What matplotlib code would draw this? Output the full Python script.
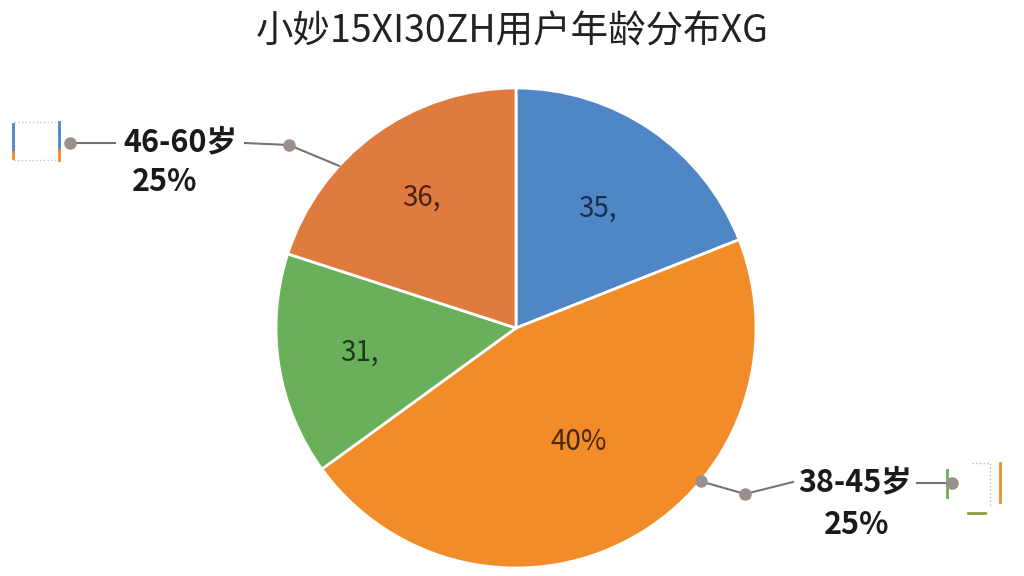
import numpy as np
import matplotlib
matplotlib.use('Agg')
import matplotlib.pyplot as plt

plt.rcParams['font.family'] = ['Noto Sans CJK SC', 'DejaVu Sans']

# data (share of the circle, in percent)
title = '小妙15XI30ZH用户年龄分布XG'
values = [19, 46, 15, 20]
colors = ['#4f86c6', '#f28c28', '#6aaf5a', '#e07b40']
inner_labels = ['35,', '40%', '31,', '36,']
inner_colors = ['#1c2f4a', '#4a2a0c', '#1f3a1a', '#4a2412']
outer_names = ['46-60岁', '38-45岁']
outer_pcts = ['25%', '25%']

W, H = 1024, 576
fig = plt.figure(figsize=(10.24, 5.76), dpi=100)
ax = fig.add_axes([0, 0, 1, 1])

cx, cy, R = 516, 248, 240
wedges, _ = ax.pie(values, colors=colors, startangle=90, counterclock=False,
                   center=(cx, cy), radius=R,
                   wedgeprops=dict(edgecolor='white', linewidth=2))
ax.set_xlim(0, W)
ax.set_ylim(0, H)
ax.set_aspect('equal')
ax.axis('off')

# labels inside the slices
dist = [0.6, 0.54, 0.66, 0.67]
for w, lab, c, d in zip(wedges, inner_labels, inner_colors, dist):
    mid = np.deg2rad((w.theta1 + w.theta2) / 2)
    ax.text(cx + d * R * np.cos(mid), cy + d * R * np.sin(mid), lab,
            ha='center', va='center', fontsize=20, color=c)

ax.text(W / 2, 544, title, ha='center', va='center', fontsize=27, color='#222222')

line_c = '#7a7272'
dot_c = '#9a8f8a'

def edge_pt(angle):
    a = np.deg2rad(angle)
    return cx + R * np.cos(a), cy + R * np.sin(a)

# 46-60岁 callout (upper left)
ex, ey = edge_pt(137.5)
ax.plot([ex, 289, 245], [ey, 431, 433], color=line_c, lw=1.5, zorder=3)
ax.plot([115, 70], [433, 433], color=line_c, lw=1.5, zorder=3)
ax.plot([289, 70], [431, 433], 'o', color=dot_c, ms=8, zorder=4)
ax.text(180, 434, outer_names[0], ha='center', va='center', fontsize=22,
        fontweight='bold', color='#1a1a1a')
ax.text(165, 394, outer_pcts[0], ha='center', va='center', fontsize=22,
        fontweight='bold', color='#1a1a1a')

# 38-45岁 callout (lower right)
ex, ey = edge_pt(-39.7)
ax.plot([ex, 745, 793], [ey, 82, 94], color=line_c, lw=1.5, zorder=3)
ax.plot([917, 952], [93, 93], color=line_c, lw=1.5, zorder=3)
ax.plot([ex, 745, 952], [ey, 82, 93], 'o', color=dot_c, ms=8, zorder=4)
ax.text(855, 94, outer_names[1], ha='center', va='center', fontsize=22,
        fontweight='bold', color='#1a1a1a')
ax.text(857, 51, outer_pcts[1], ha='center', va='center', fontsize=22,
        fontweight='bold', color='#1a1a1a')

# small legend-ish marks next to the callouts
ax.plot([14, 60, 60, 14, 14], [454, 454, 416, 416, 454], ls=':', color='#b8c4d0', lw=1)
ax.plot([13, 13], [452, 424], color='#4f86c6', lw=2)
ax.plot([13, 13], [424, 418], color='#f28c28', lw=2)
ax.plot([59, 59], [454, 426], color='#4f86c6', lw=2)
ax.plot([59, 59], [426, 416], color='#f28c28', lw=2)
ax.plot([947, 947], [106, 79], color='#6aaf5a', lw=2)
ax.plot([972, 990, 990], [113, 113, 70], ls=':', color='#c8b8a8', lw=1)
ax.plot([1000, 1000], [113, 74], color='#f28c28', lw=2)
ax.plot([968, 985], [63, 63], color='#8aa040', lw=2)

fig.savefig('out.png', dpi=100, facecolor='white')
